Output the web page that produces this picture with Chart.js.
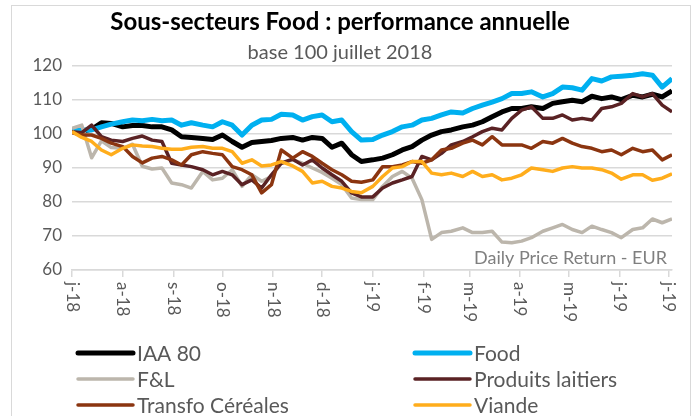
<!DOCTYPE html>
<html>
<head>
<meta charset="utf-8">
<script src="https://cdn.jsdelivr.net/npm/chart.js@4/dist/chart.umd.min.js"></script>
<style>
    body { margin: 0; background: #fff; }
    #wrap { width: 696px; height: 416px; }
</style>
</head>
<body>
<div id="wrap"><canvas id="perfChart" width="696" height="416"></canvas></div>
<script>
// days since 1 July 2018
const days = [0, 6, 12, 18, 24, 31, 37, 43, 49, 55, 61, 67, 73, 80, 86, 92, 98, 104, 110, 116,
    122, 128, 135, 141, 147, 153, 159, 165, 171, 177, 184, 190, 196, 202, 208, 214, 220, 226, 232, 239,
    245, 251, 257, 263, 269, 275, 281, 288, 294, 300, 306, 312, 318, 324, 330, 336, 343, 349, 355, 361, 367];

const iaa80 = [101, 100.8, 101.4, 103.3, 103.1, 102.1, 102.5, 102.5, 102.1, 102.1, 101.2, 99.2, 99, 98.7, 98.4,
    99.7, 97.8, 96.1, 97.5, 97.8, 98.1, 98.7, 99, 98.2, 99, 98.7, 96.1, 97.3, 93.9, 91.9,
    92.4, 92.9, 93.9, 95.3, 96.3, 98.2, 99.7, 100.7, 101.2, 102.1, 102.6, 103.6, 105.1, 106.5, 107.5,
    107.5, 108, 107.5, 109, 109.5, 109.9, 109.5, 111.1, 110.4, 110.9, 110.1, 111.4, 110.9, 111.7, 110.9, 112.7];

const food = [101, 101.2, 101.2, 102.1, 102.9, 103.6, 104.1, 103.9, 104.3, 103.9, 104.1, 102.6, 103.3, 102.6, 102.1,
    103.6, 102.6, 99.7, 102.6, 104.1, 104.3, 105.8, 105.6, 104.1, 105.1, 105.6, 103.6, 104.1, 100.7, 98.2,
    98.4, 99.7, 100.7, 102.1, 102.6, 104.1, 104.6, 105.6, 106.5, 106.2, 107.5, 108.5, 109.4, 110.4, 111.9,
    111.9, 112.4, 110.9, 111.9, 113.8, 113.6, 112.9, 116.3, 115.6, 116.8, 117, 117.3, 117.7, 117.3, 113.8, 116.3];

const fl = [101.7, 102.6, 93, 98, 96, 95.8, 97, 90.5, 89.7, 90, 85.6, 85.1, 84.1, 89, 86.5,
    87, 89.5, 84.6, 88, 86.1, 87.5, 91.4, 92.4, 91.4, 90, 88.7, 87, 85.1, 81.2, 80.7,
    80.7, 84.6, 87.5, 89, 87, 80.7, 69, 71, 71.4, 72.4, 71, 71, 71.4, 68.2, 68,
    68.5, 69.5, 71.4, 72.4, 73.4, 71.9, 71, 72.9, 71.9, 71, 69.5, 71.9, 72.4, 75, 73.9, 75];

const laitiers = [100.7, 100.4, 102.6, 99.2, 98.2, 97.8, 98.7, 99.4, 98.2, 97.8, 91.4, 90.9, 90.4, 89.5, 88,
    89, 88, 85.1, 86.5, 84.1, 88, 91.4, 92.6, 90.9, 92.4, 90, 88, 86.1, 82.7, 81.5,
    81.5, 84.1, 85.6, 86.5, 87.5, 93.4, 92.4, 94.3, 96.8, 97.8, 99.2, 100.7, 101.7, 101.2, 104.6,
    107, 108, 104.6, 104.6, 105.6, 104.1, 104.6, 104.1, 107.5, 108, 109, 111.9, 110.9, 111.9, 108.5, 106.5];

const cereales = [100.4, 99.7, 99.7, 98.7, 97.3, 96.3, 93.4, 91.5, 92.9, 93.4, 92.4, 90.9, 93.9, 94.8, 94.3,
    93.9, 90.4, 89.5, 88, 82.7, 85.1, 95.3, 92.9, 94.8, 93.4, 91.4, 89.5, 88, 86.1, 85.8,
    86.5, 90.4, 90.4, 90.9, 91.9, 91.4, 92.4, 95.3, 95.8, 97.3, 98.2, 96.8, 99.2, 96.8, 96.8,
    96.8, 95.8, 97.8, 97.3, 98.7, 97.3, 96.3, 95.8, 94.8, 95.3, 93.9, 95.8, 94.8, 95.3, 92.4, 93.9];

const viande = [100.7, 99, 97.8, 95.3, 93.9, 95.8, 96.8, 96.5, 96.3, 95.8, 95.5, 95.5, 96.1, 96.3, 95.8,
    95.8, 94.8, 91.4, 92.4, 90.6, 90.9, 91.9, 90.6, 89, 85.6, 86.1, 84.6, 84.1, 83.1, 82.7,
    84.6, 87.5, 90, 90.4, 91.9, 91.9, 88.5, 88, 88.5, 87.5, 89, 87.5, 88, 86.5, 87,
    88, 90, 89.5, 89, 90, 90.4, 90, 90, 89.5, 88.5, 86.7, 88, 88, 86.4, 87, 88.3];

const monthDays = [0, 31, 62, 92, 123, 153, 184, 215, 243, 274, 304, 335, 365];
const monthLabels = ['j-18', 'a-18', 's-18', 'o-18', 'n-18', 'd-18', 'j-19', 'f-19', 'm-19', 'a-19', 'm-19', 'j-19', 'j-19'];

const seriesNames = ['IAA 80', 'Food', 'F&L', 'Produits laitiers', 'Transfo Céréales', 'Viande'];
const seriesValues = [iaa80, food, fl, laitiers, cereales, viande];
const seriesColors = ['#000000', '#00b0f0', '#bcb6ac', '#5a2224', '#8b3510', '#ffad1c'];
const seriesWidths = [5, 5, 3.5, 3.5, 3.5, 3.5];

const TEXT = '#595959';

const extras = {
    id: 'extras',
    beforeDraw(chart) {
        const ctx = chart.ctx;
        ctx.save();
        ctx.strokeStyle = '#d9d9d9';
        ctx.lineWidth = 1;
        ctx.strokeRect(11.5, 5.5, 679, 430);
        ctx.restore();
    },
    afterDraw(chart) {
        const ctx = chart.ctx;
        const xs = chart.scales.x;
        ctx.save();

        // title + subtitle
        ctx.textAlign = 'center';
        ctx.textBaseline = 'middle';
        ctx.fillStyle = '#000';
        ctx.font = 'bold 24px Lato';
        ctx.fillText('Sous-secteurs Food : performance annuelle', 340, 22);
        ctx.fillStyle = TEXT;
        ctx.font = '20px Lato';
        ctx.fillText('base 100 juillet 2018', 340, 53);

        // source note
        ctx.textAlign = 'right';
        ctx.fillStyle = '#7f7f7f';
        ctx.font = '18px Lato';
        ctx.fillText('Daily Price Return - EUR', 667, 258);

        // rotated month labels (read top to bottom)
        ctx.fillStyle = TEXT;
        ctx.font = '17px Lato';
        ctx.textAlign = 'left';
        monthDays.forEach((d, i) => {
            const px = xs.getPixelForValue(d);
            ctx.save();
            ctx.translate(px, 282);
            ctx.rotate(Math.PI / 2);
            ctx.fillText(monthLabels[i], 0, 0);
            ctx.restore();
        });

        // legend, two columns
        const colX = [78, 415];
        const rowY = [353, 379, 405];
        ctx.font = '21px Lato';
        chart.data.datasets.forEach((ds, i) => {
            const x0 = colX[i % 2];
            const y0 = rowY[Math.floor(i / 2)];
            ctx.strokeStyle = ds.borderColor;
            ctx.lineWidth = ds.borderWidth;
            ctx.lineCap = 'round';
            ctx.beginPath();
            ctx.moveTo(x0, y0);
            ctx.lineTo(x0 + 55, y0);
            ctx.stroke();
            ctx.fillStyle = TEXT;
            ctx.fillText(ds.label, x0 + 59, y0 + 1);
        });
        ctx.restore();
    }
};

new Chart(document.getElementById('perfChart'), {
    type: 'line',
    data: {
        datasets: seriesNames.map((name, i) => ({
            label: name,
            data: days.map((d, k) => ({ x: d, y: seriesValues[i][k] })),
            borderColor: seriesColors[i],
            backgroundColor: seriesColors[i],
            borderWidth: seriesWidths[i],
            borderJoinStyle: 'round',
            pointRadius: 0,
            tension: 0,
            order: seriesNames.length - i
        }))
    },
    options: {
        responsive: false,
        animation: false,
        layout: { padding: { top: 66, right: 24, left: 0, bottom: 0 } },
        plugins: {
            legend: { display: false },
            tooltip: { enabled: false }
        },
        scales: {
            x: {
                type: 'linear',
                min: 0,
                max: 367,
                afterBuildTicks(scale) {
                    scale.ticks = monthDays.map(v => ({ value: v }));
                },
                afterFit(scale) { scale.height = 146; },
                ticks: { display: false },
                grid: {
                    drawOnChartArea: false,
                    drawTicks: true,
                    tickLength: 7,
                    color: '#d9d9d9',
                    lineWidth: 1.5
                },
                border: { display: true, color: '#d9d9d9', width: 1.5 }
            },
            y: {
                min: 60,
                max: 120,
                afterFit(scale) { scale.width = 72; },
                ticks: {
                    stepSize: 10,
                    color: TEXT,
                    font: { family: 'Lato', size: 17 },
                    padding: 10
                },
                grid: { color: '#d9d9d9', lineWidth: 1.5, drawTicks: false },
                border: { display: false }
            }
        }
    },
    plugins: [extras]
});
</script>
</body>
</html>
